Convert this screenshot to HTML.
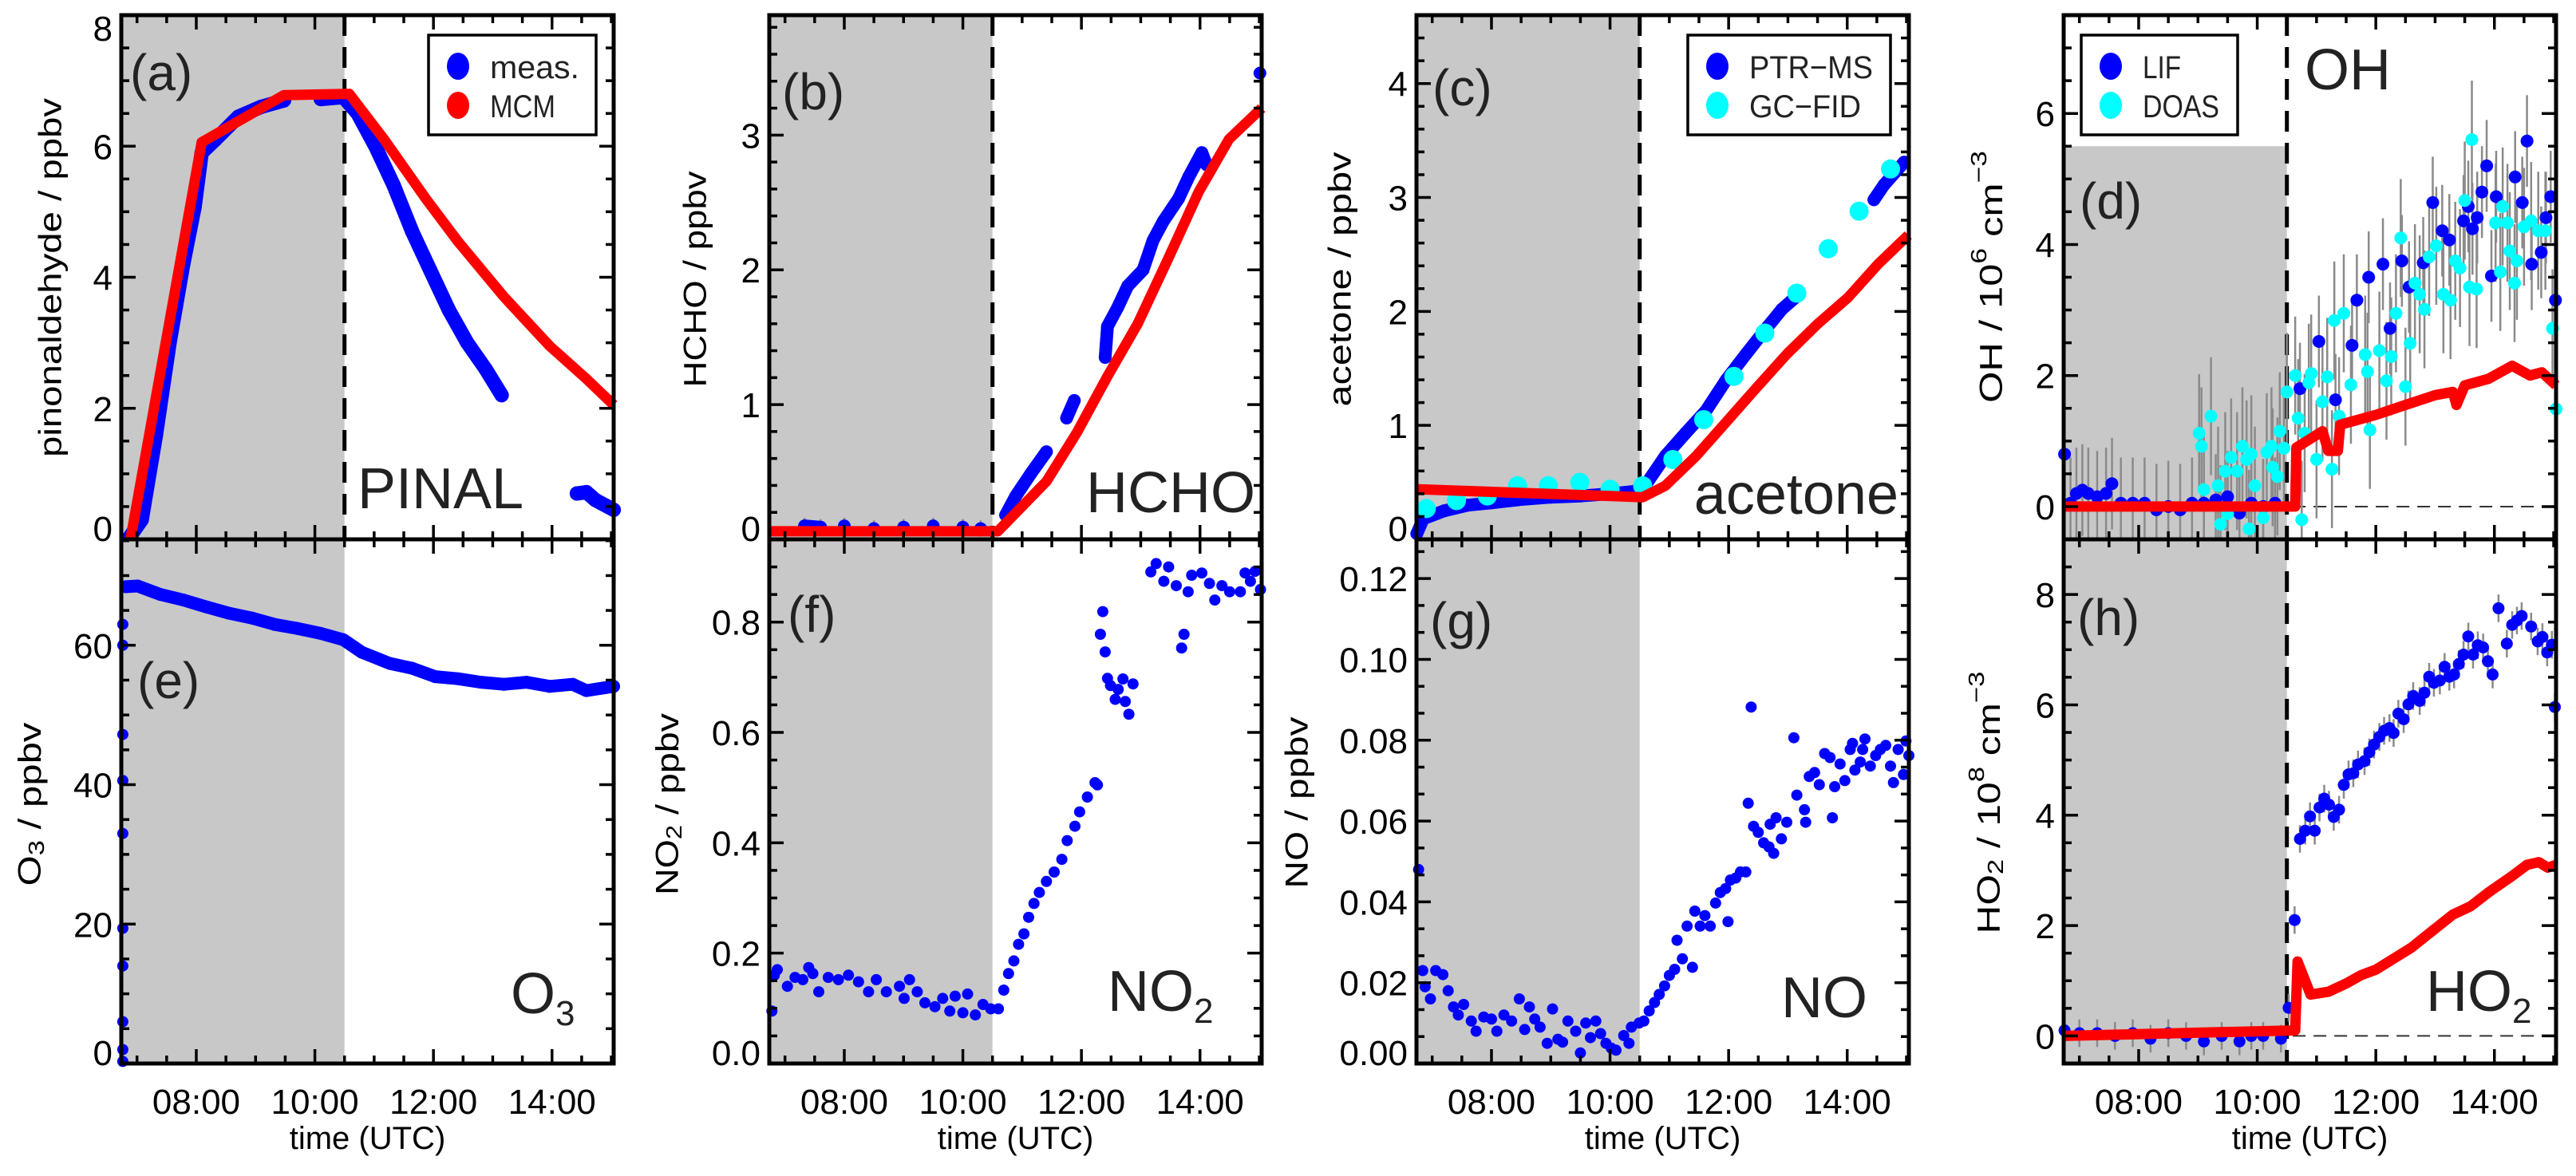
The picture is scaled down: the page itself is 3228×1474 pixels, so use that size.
<!DOCTYPE html>
<html><head><meta charset="utf-8"><style>
html,body{margin:0;padding:0;background:#fff}
svg{display:block}
text{font-family:"Liberation Sans",sans-serif}
</style></head><body>
<svg id="fig" width="3228" height="1474" viewBox="0 0 3228 1474" xmlns="http://www.w3.org/2000/svg"></svg>
<script>
// ---------- DATA ----------
const pinalMeasT=[6.85,7.08,7.32,7.55,7.78,7.97,8.09,8.32,8.71,9.09,9.48,10.10,10.48,10.72,11.02,11.33,11.64,11.95,12.26,12.57,12.88,13.15,14.42,14.58,14.73,15.04];
const pinalMeasV=[0,0.3,1.6,3.0,4.2,5.07,5.9,6.1,6.45,6.6,6.7,6.72,6.75,6.5,6.0,5.4,4.7,4.1,3.5,3.0,2.6,2.2,0.7,0.72,0.6,0.45];
const pinalMcmT=[6.89,8.09,9.48,10.58,11.17,11.87,12.41,13.19,13.96,14.58,15.04];
const pinalMcmV=[0,6.06,6.78,6.8,6.1,5.2,4.55,3.7,2.95,2.45,2.05];
const hchoMeasT=[7.33,7.6,8.0,8.5,9.0,9.5,10.0,10.3,10.72,10.89,11.15,11.41,11.75,11.88,12.40,12.44,12.61,12.78,13.04,13.21,13.38,13.64,13.81,14.03,14.11,15.01];
const hchoMeasV=[0.1,0.09,0.1,0.08,0.09,0.1,0.09,0.08,0.18,0.32,0.49,0.65,0.9,1.03,1.35,1.58,1.72,1.88,2.0,2.22,2.36,2.53,2.69,2.87,2.78,3.46];
const hchoMcmT=[6.74,10.59,11.41,11.92,12.44,12.95,13.46,13.98,14.49,15.04];
const hchoMcmV=[0.06,0.06,0.43,0.79,1.21,1.6,2.08,2.58,2.97,3.2];
const acetPtrT=[6.74,6.85,7.2,7.6,8.0,8.5,9.0,9.5,10.0,10.4,10.59,10.93,11.27,11.62,11.96,12.30,12.65,12.90,13.12,14.45,14.62,14.96];
const acetPtrV=[0.05,0.18,0.25,0.3,0.32,0.35,0.37,0.38,0.4,0.42,0.47,0.73,0.93,1.13,1.4,1.63,1.86,2.02,2.12,2.98,3.11,3.31];
const acetGcT=[6.90,7.41,7.93,8.44,8.96,9.49,10.00,10.55,11.06,11.58,12.09,12.61,13.15,13.68,14.20,14.73];
const acetGcV=[0.27,0.34,0.38,0.47,0.47,0.5,0.44,0.47,0.7,1.05,1.43,1.81,2.16,2.55,2.88,3.25];
const acetMcmT=[6.74,10.55,10.93,11.45,11.96,12.47,12.99,13.5,14.01,14.53,15.03];
const acetMcmV=[0.44,0.37,0.47,0.73,1.03,1.33,1.63,1.89,2.12,2.42,2.67];
const ohLifT=[6.75,6.85,6.95,7.05,7.15,7.3,7.45,7.55,7.7,7.9,8.1,8.3,8.5,8.7,8.9,9.1,9.3,9.5,9.7,9.9,10.1,10.3,10.72,11.04,11.32,11.6,11.68,11.88,12.12,12.24,12.44,12.56,12.8,12.96,13.12,13.24,13.48,13.56,13.63,13.71,13.79,13.87,13.95,14.03,14.35,14.47,14.55,14.63,14.79,14.87,14.95,15.03];
const ohLifV=[0.8,0.05,0.2,0.25,0.2,0.15,0.2,0.35,0.05,0.05,0.05,-0.05,0.0,-0.05,0.05,0.05,0.1,0.15,-0.1,0.05,0.0,0.05,1.8,2.52,1.63,2.46,3.15,3.5,3.7,2.72,3.75,3.35,3.72,4.64,4.21,4.07,4.36,4.58,4.24,4.41,4.8,5.2,3.52,4.73,5.03,4.64,5.58,3.7,3.88,4.41,4.73,3.15];
const ohDoasT=[9.02,9.06,9.22,9.1,9.34,9.38,9.46,9.5,9.56,9.66,9.75,9.86,9.82,9.9,9.96,10.1,10.16,10.24,10.26,10.34,10.38,10.45,10.5,10.64,10.69,10.75,10.8,10.87,10.91,11.0,11.1,11.18,11.26,11.3,11.38,11.46,11.58,11.82,11.86,11.9,12.06,12.18,12.26,12.34,12.42,12.5,12.58,12.66,12.74,12.82,12.9,13.02,13.14,13.26,13.34,13.42,13.5,13.62,13.58,13.7,14.02,14.1,14.14,14.22,14.26,14.34,14.38,14.5,14.62,14.74,14.86,14.98,15.04];
const ohDoasV=[1.12,0.92,1.38,0.26,0.32,-0.27,0.54,-0.11,0.75,0.54,0.92,-0.34,0.72,0.8,0.32,-0.17,0.83,0.92,0.6,0.46,1.15,0.89,1.75,2.0,1.35,-0.2,1.12,1.89,2.03,0.72,1.6,1.98,0.57,2.84,1.38,2.95,1.86,2.32,2.06,1.17,2.38,1.92,2.29,2.95,4.1,1.83,2.49,3.41,3.24,3.01,3.81,3.98,3.24,3.15,3.75,3.64,4.67,5.6,3.35,3.32,4.33,3.58,4.58,4.33,3.9,3.41,3.75,4.27,4.36,4.21,4.21,2.72,1.49];
const ohMcmT=[6.74,10.64,10.66,11.1,11.2,11.36,11.4,12.0,12.5,13.0,13.3,13.36,13.5,13.9,14.3,14.6,14.8,15.04];
const ohMcmV=[0,0,0.9,1.15,0.85,0.85,1.25,1.4,1.55,1.7,1.75,1.55,1.85,1.95,2.15,2.0,2.05,1.85];
const o3InitT=[6.76,6.76,6.76,6.76,6.76,6.76,6.76,6.76,6.76,6.76];
const o3InitV=[0.3,2,6,14,19.4,33,40.6,47.2,60,63];
const o3MeasT=[6.81,7.01,7.39,7.78,8.17,8.55,8.94,9.32,9.71,10.10,10.48,10.79,11.26,11.64,12.03,12.41,12.80,13.19,13.57,13.96,14.35,14.58,15.04];
const o3MeasV=[68.4,68.5,67.3,66.5,65.5,64.6,63.9,63.0,62.4,61.7,60.8,59.0,57.4,56.7,55.5,55.2,54.7,54.4,54.7,54.1,54.4,53.5,54.1];
const no2T=[6.78,6.82,6.87,7.04,7.17,7.3,7.4,7.47,7.57,7.73,7.9,8.07,8.24,8.41,8.54,8.71,8.93,9.01,9.1,9.23,9.36,9.53,9.66,9.78,9.87,10.0,10.08,10.21,10.34,10.47,10.6,10.69,10.77,10.86,10.94,11.03,11.11,11.2,11.29,11.41,11.54,11.67,11.76,11.89,11.97,12.1,12.23,12.27,12.32,12.36,12.4,12.44,12.49,12.57,12.62,12.7,12.74,12.8,12.87,13.17,13.26,13.39,13.47,13.6,13.69,13.73,13.8,13.86,14.03,14.16,14.25,14.37,14.5,14.68,14.76,14.85,14.93,15.02];
const no2V=[0.095,0.16,0.17,0.14,0.156,0.152,0.174,0.163,0.13,0.156,0.152,0.16,0.148,0.13,0.152,0.13,0.14,0.118,0.152,0.13,0.11,0.103,0.118,0.095,0.122,0.092,0.126,0.088,0.107,0.099,0.099,0.133,0.163,0.186,0.216,0.235,0.265,0.29,0.31,0.33,0.347,0.37,0.404,0.43,0.456,0.483,0.509,0.505,0.778,0.819,0.746,0.698,0.685,0.66,0.678,0.697,0.656,0.633,0.688,0.891,0.906,0.874,0.9,0.866,0.753,0.778,0.855,0.885,0.889,0.87,0.84,0.866,0.855,0.855,0.889,0.874,0.892,0.859];
const noT=[6.77,6.84,6.88,6.97,7.06,7.18,7.27,7.36,7.44,7.53,7.66,7.74,7.87,8.0,8.09,8.21,8.34,8.47,8.56,8.64,8.73,8.82,8.94,9.03,9.12,9.2,9.29,9.42,9.5,9.59,9.67,9.76,9.84,9.93,10.02,10.1,10.23,10.32,10.36,10.49,10.57,10.66,10.75,10.83,10.92,11.0,11.09,11.13,11.22,11.3,11.39,11.43,11.52,11.6,11.69,11.78,11.86,11.95,11.99,12.03,12.12,12.2,12.29,12.33,12.38,12.42,12.5,12.59,12.68,12.76,12.7,12.8,12.89,12.98,13.1,13.15,13.28,13.3,13.36,13.45,13.53,13.62,13.71,13.75,13.79,13.88,13.96,14.05,14.09,14.13,14.22,14.26,14.3,14.39,14.48,14.56,14.65,14.73,14.78,14.86,14.95,14.99,15.04];
const noV=[0.048,0.023,0.019,0.016,0.023,0.022,0.018,0.014,0.012,0.0146,0.0105,0.008,0.0115,0.011,0.008,0.012,0.0105,0.016,0.0084,0.014,0.011,0.009,0.005,0.0135,0.006,0.0053,0.0105,0.008,0.0026,0.01,0.0064,0.0105,0.0074,0.005,0.0038,0.0033,0.0069,0.005,0.009,0.01,0.0105,0.013,0.0151,0.0171,0.0192,0.0218,0.0233,0.0305,0.0259,0.034,0.0238,0.0377,0.034,0.0366,0.034,0.0397,0.0423,0.0433,0.0351,0.0454,0.0459,0.0474,0.0474,0.0644,0.0882,0.0587,0.0572,0.0546,0.0536,0.052,0.0592,0.0608,0.0556,0.0597,0.0806,0.0664,0.0628,0.0597,0.071,0.072,0.069,0.0767,0.0757,0.0608,0.0685,0.0741,0.07,0.0777,0.0792,0.0726,0.0746,0.0777,0.0803,0.0736,0.0762,0.0777,0.0787,0.0736,0.0695,0.0777,0.0715,0.0798,0.0762];
const ho2MeasT=[6.75,7.0,7.3,7.6,7.9,8.2,8.5,8.8,9.1,9.4,9.7,9.9,10.1,10.4,10.53,10.63,10.72,10.81,10.89,10.97,11.05,11.13,11.21,11.29,11.38,11.46,11.54,11.62,11.7,11.81,11.89,11.97,12.06,12.14,12.23,12.3,12.38,12.47,12.55,12.63,12.74,12.82,12.9,12.98,13.08,13.16,13.24,13.32,13.4,13.48,13.56,13.64,13.72,13.81,13.89,13.97,14.07,14.21,14.3,14.38,14.46,14.62,14.73,14.81,14.89,14.97,15.02];
const ho2MeasV=[0.1,0.05,0.05,0.0,0.05,-0.05,0.05,0.0,-0.1,0.0,-0.1,0.0,0.0,-0.05,0.51,2.1,3.57,3.72,3.98,3.72,4.14,4.3,4.19,3.97,4.1,4.55,4.74,4.76,4.92,4.98,5.14,5.28,5.42,5.53,5.58,5.49,5.84,5.74,6.01,6.16,6.07,6.22,6.51,6.4,6.44,6.69,6.51,6.55,6.74,6.91,7.24,6.91,7.08,7.04,6.79,6.55,7.75,7.11,7.45,7.53,7.61,7.42,7.15,7.23,6.95,7.09,5.96];
const ho2McmT=[6.74,10.64,10.68,10.9,11.2,11.5,11.75,12.0,12.3,12.6,12.95,13.3,13.6,13.9,14.3,14.55,14.75,14.9,15.04];
const ho2McmV=[0,0.1,1.35,0.75,0.8,0.95,1.1,1.2,1.4,1.6,1.9,2.2,2.35,2.6,2.9,3.1,3.15,3.05,3.1];
const xTickLabels=["08:00","10:00","12:00","14:00"];
const xTickHours=[8,10,12,14];

// ---------- HELPERS ----------
const NS="http://www.w3.org/2000/svg";
const svg=document.getElementById('fig');
const T0=6.735,T1=15.04,TDARK=10.5;
function el(tag,attrs,parent){const e=document.createElementNS(NS,tag);for(const k in attrs)e.setAttribute(k,attrs[k]);(parent||svg).appendChild(e);return e;}
function mk(p){
  const g=el('g',{});
  
  
  p.g=g;
  p.xs=t=>p.x0+(t-T0)/(T1-T0)*(p.x1-p.x0);
  p.ys=v=>p.y1-(v-p.vmin)/(p.vmax-p.vmin)*(p.y1-p.y0);
  const shTop=p.shadeTop!==undefined?p.ys(p.shadeTop):p.y0;
  const sh=el('rect',{x:p.x0,y:shTop,width:p.xs(TDARK)-p.x0,height:p.y1-shTop,fill:'#c8c8c8'},g);
  
  
  if(p.dash){
    const d=el('line',{x1:p.xs(TDARK),x2:p.xs(TDARK),y1:p.y0,y2:p.y1,stroke:'#000','stroke-width':5,'stroke-dasharray':'26 14'},g);
    
    
  }
  if(p.zero){
    const z=el('line',{x1:p.xs(10.6),x2:p.x1,y1:p.ys(0),y2:p.ys(0),stroke:'#333','stroke-width':2,'stroke-dasharray':'16 10'},g);
    
    
  }
  return p;
}
function errbars(p,T,V,h,name){
  const g=el('g',{stroke:'#8a8a8a','stroke-width':2.5},p.g);
  
  
  for(let i=0;i<T.length;i++){el('line',{x1:p.xs(T[i]),x2:p.xs(T[i]),y1:Math.max(p.y0,p.ys(V[i]+h)),y2:Math.min(p.y1,p.ys(V[i]-h))},g);}
}
function dots(p,T,V,r,color,name,connect){
  const g=el('g',{fill:color},p.g);
  
  
  if(connect){
    let d='';
    for(let i=0;i<T.length;i++){
      const dt=i>0?T[i]-T[i-1]:99;
      d+=(dt>0.01&&dt<connect?'L':'M')+p.xs(T[i]).toFixed(1)+' '+p.ys(V[i]).toFixed(1)+' ';
    }
    el('path',{d:d,fill:'none',stroke:color,'stroke-width':2*r,'stroke-linecap':'round','stroke-linejoin':'round'},g);
  }
  for(let i=0;i<T.length;i++){
    const x=p.xs(T[i]),y=p.ys(V[i]);
    if(x<p.x0-r||x>p.x1+r||y<p.y0-2||y>p.y1+2)continue;
    const c=el('circle',{cx:x.toFixed(1),cy:y.toFixed(1),r:r},g);
    
    
  }
}
function line(p,T,V,name){
  let d='';
  for(let i=0;i<T.length;i++)d+=(i?'L':'M')+p.xs(T[i]).toFixed(1)+' '+p.ys(V[i]).toFixed(1)+' ';
  const l=el('path',{d:d,fill:'none',stroke:'#ff0000','stroke-width':13,'stroke-linejoin':'round'},p.g);
  
  
}
function frame(p){
  const g=el('g',{stroke:'#000','stroke-width':3.5},p.g);
  
  
  el('rect',{x:p.x0,y:p.y0,width:p.x1-p.x0,height:p.y1-p.y0,fill:'none','stroke-width':5},g);
  for(let t=7;t<=15.001;t+=0.5){
    const x=p.xs(t),L=(t%2===0)?18:10;
    el('line',{x1:x,x2:x,y1:p.y1,y2:p.y1-L},g);
    el('line',{x1:x,x2:x,y1:p.y0,y2:p.y0+L},g);
  }
  const start=Math.ceil(p.vmin/p.minor-1e-6)*p.minor;
  for(let v=start;v<=p.vmax+1e-9;v+=p.minor){
    const y=p.ys(v);
    const isMaj=Math.abs(v/p.major-Math.round(v/p.major))<1e-4,L=isMaj?18:10;
    el('line',{x1:p.x0,x2:p.x0+L,y1:y,y2:y},g);
    el('line',{x1:p.x1,x2:p.x1-L,y1:y,y2:y},g);
  }
  const lg=el('g',{'font-size':44,fill:'#000','text-anchor':'end'},p.g);
  
  
  for(let i=0;i<p.ticks.length;i++){
    let y=p.ys(p.ticks[i]);
    y=Math.max(p.y0+16,Math.min(p.y1-14,y));
    const t=el('text',{x:p.x0-11,y:y+16},lg);t.textContent=p.tickLabels[i];
  }
  if(p.bottom){
    const xg=el('g',{'font-size':44,fill:'#000','text-anchor':'middle'},p.g);
    
    
    for(let i=0;i<xTickHours.length;i++){const t=el('text',{x:p.xs(xTickHours[i]),y:1396},xg);t.textContent=xTickLabels[i];}
    const xt=el('text',{x:(p.x0+p.x1)/2,y:1440,'font-size':40,'text-anchor':'middle',fill:'#000'},p.g);
    xt.textContent='time (UTC)';
    
    
  }
}
function ytitle(p,html,cx,cy,len){
  const t=el('text',{transform:`translate(${cx},${cy}) rotate(-90)`,'font-size':40,'text-anchor':'middle',fill:'#000',textLength:len,lengthAdjust:'spacingAndGlyphs','dominant-baseline':'middle'},p.g);
  t.innerHTML=html;
  
  
}
function label(p,txt,x,y,name,size,anchor){
  const t=el('text',{x:x,y:y,'font-size':size,fill:'#222','text-anchor':anchor||'start'},p.g);
  t.innerHTML=txt;
  
  
}
function legend(p,x0,x1,y0,y1,items){
  const g=el('g',{},p.g);
  
  
  el('rect',{x:x0,y:y0,width:x1-x0,height:y1-y0,fill:'#fff',stroke:'#000','stroke-width':3.5},g);
  items.forEach((it,i)=>{
    const cy=y0+39+i*49;
    const e=el('g',{},g);
    
    
    el('ellipse',{cx:x0+37,cy:cy,rx:14,ry:17,fill:it.c},e);
    const t=el('text',{x:x0+77,y:cy+15,'font-size':40,fill:'#222',textLength:it.w,lengthAdjust:'spacingAndGlyphs'},e);t.textContent=it.t;
  });
}
const L=[152,964,1775,2586],W=617;

// (a) PINAL
let a=mk({id:'a',x0:L[0],x1:L[0]+W,y0:19,y1:676,vmin:0,vmax:8,major:2,minor:0.5,ticks:[0,2,4,6,8],tickLabels:['0','2','4','6','8'],dash:true});
dots(a,pinalMeasT,pinalMeasV,9,'#0000ff','pinal-meas',0.6);
line(a,pinalMcmT,pinalMcmV,'pinal-mcm');
frame(a);
ytitle(a,'pinonaldehyde  /  ppbv',66,348,450);
label(a,'(a)',163,113,'panel-label',64);
label(a,'PINAL',448,637,'species-label',72);
legend(a,537,747,44,169,[{c:'#0000ff',t:'meas.',w:112},{c:'#ff0000',t:'MCM',w:82}]);

// (b) HCHO
let b=mk({id:'b',x0:L[1],x1:L[1]+W,y0:19,y1:676,vmin:0,vmax:3.89,major:1,minor:0.2,ticks:[0,1,2,3],tickLabels:['0','1','2','3'],dash:true});
errbars(b,hchoMeasT.slice(0,8),hchoMeasV.slice(0,8),0.06,'hcho-error-bars');
dots(b,hchoMeasT,hchoMeasV,8,'#0000ff','hcho-meas',0.3);
line(b,hchoMcmT,hchoMcmV,'hcho-mcm');
frame(b);
ytitle(b,'HCHO  /  ppbv',874,350,271);
label(b,'(b)',980,137,'panel-label',64);
label(b,'HCHO',1573,642,'species-label',72,'end');

// (c) acetone
let c=mk({id:'c',x0:L[2],x1:L[2]+W,y0:19,y1:676,vmin:0,vmax:4.6,major:1,minor:0.2,ticks:[0,1,2,3,4],tickLabels:['0','1','2','3','4'],dash:true});
dots(c,acetPtrT,acetPtrV,8,'#0000ff','acetone-ptrms',0.6);
dots(c,acetGcT,acetGcV,12,'#00ffff','acetone-gcfid',0);
line(c,acetMcmT,acetMcmV,'acetone-mcm');
frame(c);
ytitle(c,'acetone  /  ppbv',1682,350,319);
label(c,'(c)',1795,132,'panel-label',64);
label(c,'acetone',2379,644,'species-label',72,'end');
legend(c,2115,2369,44,169,[{c:'#0000ff',t:'PTR−MS',w:155},{c:'#00ffff',t:'GC−FID',w:140}]);

// (d) OH
let d=mk({id:'d',x0:L[3],x1:L[3]+W,y0:19,y1:676,vmin:-0.5,vmax:7.5,major:2,minor:0.5,ticks:[0,2,4,6],tickLabels:['0','2','4','6'],dash:true,zero:true,shadeTop:5.5});
errbars(d,ohLifT,ohLifV,0.7,'oh-lif-error-bars');
errbars(d,ohDoasT,ohDoasV,0.9,'oh-doas-error-bars');
dots(d,ohLifT,ohLifV,8,'#0000ff','oh-lif',0);
dots(d,ohDoasT,ohDoasV,8,'#00ffff','oh-doas',0);
line(d,ohMcmT,ohMcmV,'oh-mcm');
frame(d);
ytitle(d,'OH  /  10<tspan font-size="28" dy="-16">6</tspan><tspan dy="16"> cm</tspan><tspan font-size="28" dy="-16">−3</tspan>',2498,347,316);
label(d,'(d)',2606,274,'panel-label',64);
label(d,'OH',2888,112,'species-label',72);
legend(d,2608,2804,44,169,[{c:'#0000ff',t:'LIF',w:48},{c:'#00ffff',t:'DOAS',w:96}]);

// (e) O3
let e=mk({id:'e',x0:L[0],x1:L[0]+W,y0:676,y1:1333,vmin:0,vmax:75.2,major:20,minor:5,ticks:[0,20,40,60],tickLabels:['0','20','40','60'],bottom:true});
dots(e,o3InitT,o3InitV,7,'#0000ff','o3-initial',0);
dots(e,o3MeasT,o3MeasV,8,'#0000ff','o3-meas',0.6);
frame(e);
ytitle(e,'O<tspan font-size="28" dy="8">3</tspan><tspan dy="-8">  /  ppbv</tspan>',40,1008,205);
label(e,'(e)',172,875,'panel-label',64);
label(e,'O<tspan font-size="44" dy="15">3</tspan>',640,1270,'species-label',72);

// (f) NO2
let f=mk({id:'f',x0:L[1],x1:L[1]+W,y0:676,y1:1333,vmin:0,vmax:0.95,major:0.2,minor:0.05,ticks:[0,0.2,0.4,0.6,0.8],tickLabels:['0.0','0.2','0.4','0.6','0.8'],bottom:true});
dots(f,no2T,no2V,7,'#0000ff','no2-meas',0);
frame(f);
ytitle(f,'NO<tspan font-size="28" dy="8">2</tspan><tspan dy="-8">  /  ppbv</tspan>',839,1008,228);
label(f,'(f)',987,792,'panel-label',64);
label(f,'NO<tspan font-size="44" dy="15">2</tspan>',1388,1267,'species-label',72);

// (g) NO
let gp=mk({id:'g',x0:L[2],x1:L[2]+W,y0:676,y1:1333,vmin:0,vmax:0.1297,major:0.02,minor:0.02/3,ticks:[0,0.02,0.04,0.06,0.08,0.10,0.12],tickLabels:['0.00','0.02','0.04','0.06','0.08','0.10','0.12'],bottom:true});
dots(gp,noT,noV,7,'#0000ff','no-meas',0);
frame(gp);
ytitle(gp,'NO  /  ppbv',1628,1006,215);
label(gp,'(g)',1792,800,'panel-label',64);
label(gp,'NO',2232,1275,'species-label',72);

// (h) HO2
let h=mk({id:'h',x0:L[3],x1:L[3]+W,y0:676,y1:1333,vmin:-0.5,vmax:9.0,major:2,minor:0.5,ticks:[0,2,4,6,8],tickLabels:['0','2','4','6','8'],bottom:true,dash:true,zero:true});
errbars(h,ho2MeasT,ho2MeasV,0.25,'ho2-error-bars');
dots(h,ho2MeasT,ho2MeasV,7.5,'#0000ff','ho2-meas',0);
line(h,ho2McmT,ho2McmV,'ho2-mcm');
frame(h);
ytitle(h,'HO<tspan font-size="28" dy="8">2</tspan><tspan dy="-8">  /  10</tspan><tspan font-size="28" dy="-16">8</tspan><tspan dy="16"> cm</tspan><tspan font-size="28" dy="-16">−3</tspan>',2495,1006,329);
label(h,'(h)',2603,796,'panel-label',64);
label(h,'HO<tspan font-size="44" dy="15">2</tspan>',3040,1267,'species-label',72);
</script>
</body></html>
